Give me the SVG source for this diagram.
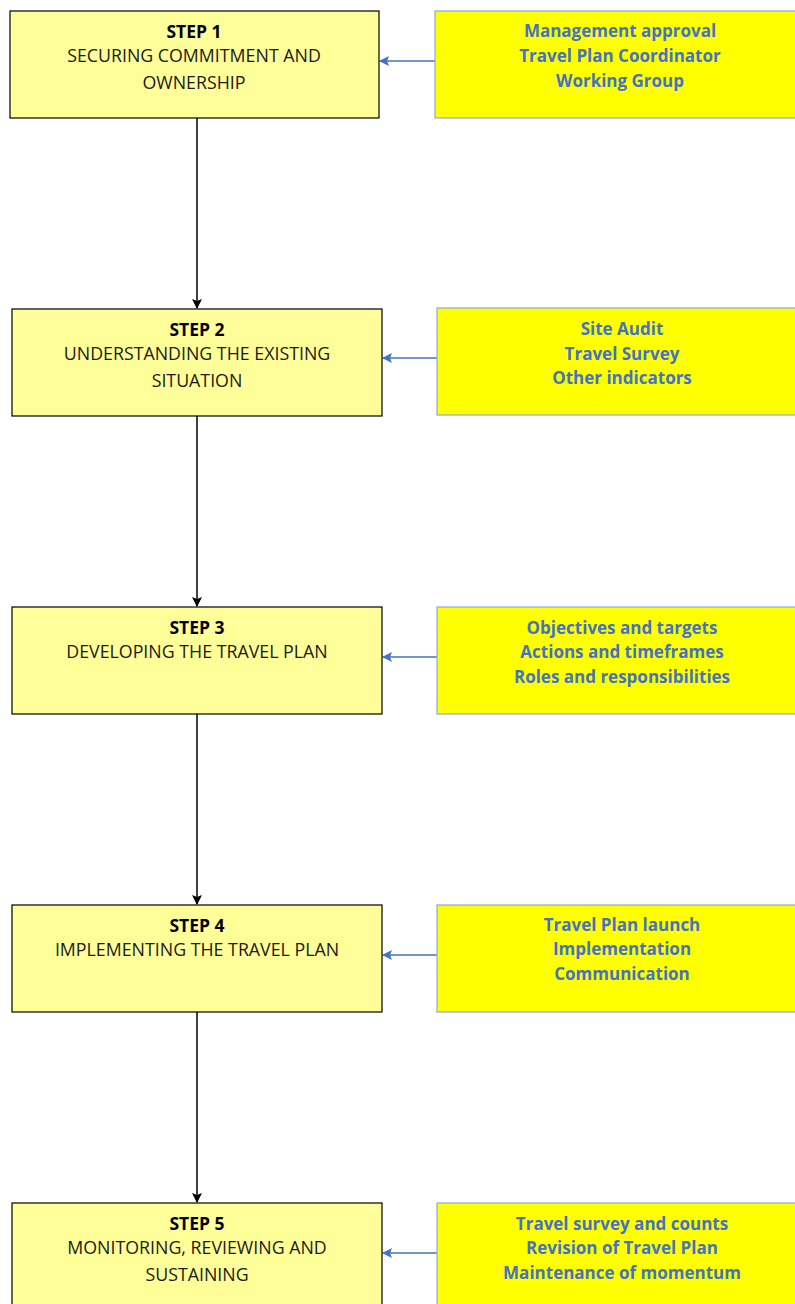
<svg xmlns="http://www.w3.org/2000/svg" width="795" height="1304" viewBox="0 0 795 1304">
<style>
.step{fill:#FFFF99;stroke:#000;stroke-width:1.2}
.info{fill:#FFFF00;stroke:#8EA9DB;stroke-width:1.2}
.t{font-family:"Open Sans","Liberation Sans",sans-serif;font-size:17.8px;fill:#1a1a1a;text-anchor:middle}
.h{font-weight:bold;fill:#000;font-size:17.5px}
.b{font-family:"Open Sans","Liberation Sans",sans-serif;font-size:17px;font-weight:bold;fill:#4472C4;text-anchor:middle}
.down{stroke:#000;stroke-width:1.5;fill:none}
.left{stroke:#4472C4;stroke-width:1.5;fill:none}
</style>
<defs>
<marker id="ak" markerWidth="10" markerHeight="10" refX="9" refY="5" orient="auto" markerUnits="userSpaceOnUse"><path d="M0,0 L10,5 L0,10 L2,5 Z" fill="#000"/></marker>
<marker id="ab" markerWidth="10" markerHeight="10" refX="9" refY="5" orient="auto" markerUnits="userSpaceOnUse"><path d="M0,0 L10,5 L0,10 L2,5 Z" fill="#4472C4"/></marker>
</defs>
<rect width="795" height="1304" fill="#fff"/>
<g id="connectors">
<line class="down" x1="197" y1="118" x2="197" y2="308" marker-end="url(#ak)"/>
<line class="down" x1="197" y1="416" x2="197" y2="606" marker-end="url(#ak)"/>
<line class="down" x1="197" y1="714" x2="197" y2="904" marker-end="url(#ak)"/>
<line class="down" x1="197" y1="1012" x2="197" y2="1202" marker-end="url(#ak)"/>
<line class="left" x1="435" y1="61" x2="380" y2="61" marker-end="url(#ab)"/>
<line class="left" x1="437" y1="358" x2="383" y2="358" marker-end="url(#ab)"/>
<line class="left" x1="437" y1="657" x2="383" y2="657" marker-end="url(#ab)"/>
<line class="left" x1="437" y1="955" x2="383" y2="955" marker-end="url(#ab)"/>
<line class="left" x1="437" y1="1253" x2="383" y2="1253" marker-end="url(#ab)"/>
</g>
<g id="step1">
<rect class="step" x="10" y="11" width="369" height="107"/>
<text class="t h" x="194" y="38">STEP 1</text>
<text class="t" x="194" y="62">SECURING COMMITMENT AND</text>
<text class="t" x="194" y="89">OWNERSHIP</text>
</g>
<g id="info1">
<rect class="info" x="435" y="11" width="365" height="107"/>
<text class="b" x="620" y="37">Management approval</text>
<text class="b" x="620" y="62">Travel Plan Coordinator</text>
<text class="b" x="620" y="87">Working Group</text>
</g>
<g id="step2">
<rect class="step" x="12" y="309" width="370" height="107"/>
<text class="t h" x="197" y="336">STEP 2</text>
<text class="t" x="197" y="360">UNDERSTANDING THE EXISTING</text>
<text class="t" x="197" y="387">SITUATION</text>
</g>
<g id="info2">
<rect class="info" x="437" y="308" width="363" height="107"/>
<text class="b" x="622" y="335">Site Audit</text>
<text class="b" x="622" y="360">Travel Survey</text>
<text class="b" x="622" y="384">Other indicators</text>
</g>
<g id="step3">
<rect class="step" x="12" y="607" width="370" height="107"/>
<text class="t h" x="197" y="634">STEP 3</text>
<text class="t" x="197" y="658">DEVELOPING THE TRAVEL PLAN</text>
</g>
<g id="info3">
<rect class="info" x="437" y="607" width="363" height="107"/>
<text class="b" x="622" y="634">Objectives and targets</text>
<text class="b" x="622" y="658">Actions and timeframes</text>
<text class="b" x="622" y="683">Roles and responsibilities</text>
</g>
<g id="step4">
<rect class="step" x="12" y="905" width="370" height="107"/>
<text class="t h" x="197" y="932">STEP 4</text>
<text class="t" x="197" y="956">IMPLEMENTING THE TRAVEL PLAN</text>
</g>
<g id="info4">
<rect class="info" x="437" y="905" width="363" height="107"/>
<text class="b" x="622" y="931">Travel Plan launch</text>
<text class="b" x="622" y="955">Implementation</text>
<text class="b" x="622" y="980">Communication</text>
</g>
<g id="step5">
<rect class="step" x="12" y="1203" width="370" height="107"/>
<text class="t h" x="197" y="1230">STEP 5</text>
<text class="t" x="197" y="1254">MONITORING, REVIEWING AND</text>
<text class="t" x="197" y="1281">SUSTAINING</text>
</g>
<g id="info5">
<rect class="info" x="437" y="1203" width="363" height="107"/>
<text class="b" x="622" y="1230">Travel survey and counts</text>
<text class="b" x="622" y="1254">Revision of Travel Plan</text>
<text class="b" x="622" y="1279">Maintenance of momentum</text>
</g>
</svg>
